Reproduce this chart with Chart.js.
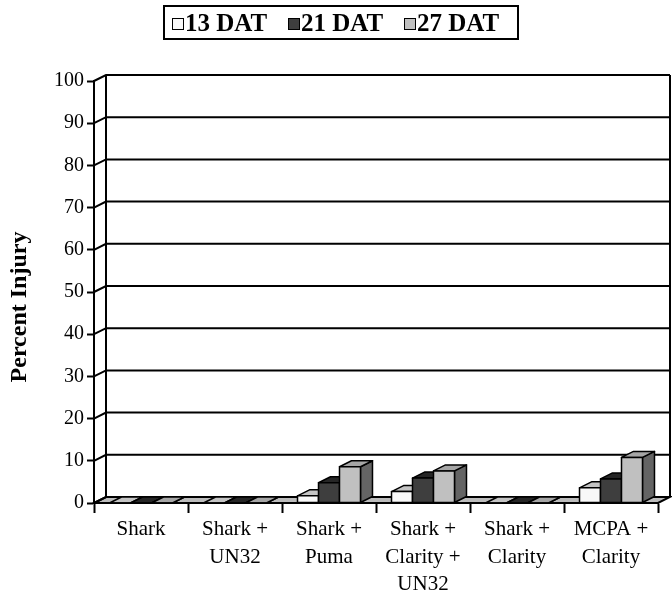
<!DOCTYPE html>
<html lang="en">
<head>
  <meta charset="UTF-8" />
  <title>Percent Injury</title>
  <script src="https://cdn.jsdelivr.net/npm/chart.js"></script>
  <style>
    html, body {
      margin: 0;
      padding: 0;
      background: #ffffff;
    }
    .wrap {
      position: relative;
      width: 672px;
      height: 599px;
    }
    .legend {
      position: absolute;
      left: 163px;
      top: 5px;
      width: 352px;
      height: 31px;
      border: 2px solid #000;
      font-family: 'Liberation Serif', 'Times New Roman', serif;
      font-weight: bold;
      font-size: 25px;
      color: #000;
    }
    .legend .item {
      position: absolute;
      top: 0;
      height: 31px;
      line-height: 31px;
      white-space: nowrap;
    }
    .legend .box {
      display: inline-block;
      width: 10px;
      height: 10px;
      border: 1.5px solid #000;
      margin-right: 1px;
      vertical-align: 1px;
    }
  </style>
</head>
<body>
  <div class="wrap">
    <canvas id="injuryChart" width="672" height="599"></canvas>
    <div class="legend" id="legend"></div>
  </div>

  <script>
    // data
    const categories = [
      ["Shark"],
      ["Shark +", "UN32"],
      ["Shark +", "Puma"],
      ["Shark +", "Clarity +", "UN32"],
      ["Shark +", "Clarity"],
      ["MCPA +", "Clarity"]
    ];
    const seriesNames = ["13 DAT", "21 DAT", "27 DAT"];
    const dat13 = [0, 0, 1.7, 2.7, 0, 3.6];
    const dat21 = [0, 0, 4.8, 5.9, 0, 5.7];
    const dat27 = [0, 0, 8.6, 7.6, 0, 10.8];
    const yTicks = [0, 10, 20, 30, 40, 50, 60, 70, 80, 90, 100];

    // front / top / side shades per series
    const faces = [
      { front: "#f8f8f8", top: "#c4c4c4", side: "#7a7a7a" },
      { front: "#3e3e3e", top: "#262626", side: "#1c1c1c" },
      { front: "#c0c0c0", top: "#a6a6a6", side: "#646464" }
    ];
    const DX = 12, DY = -6;
    const serif = "'Liberation Serif', 'Times New Roman', serif";

    // legend in html
    const legendPos = [7, 123, 239];
    const legend = document.getElementById("legend");
    seriesNames.forEach((name, i) => {
      const item = document.createElement("div");
      item.className = "item";
      item.style.left = legendPos[i] + "px";
      const box = document.createElement("span");
      box.className = "box";
      box.style.background = faces[i].front;
      item.appendChild(box);
      item.appendChild(document.createTextNode(name));
      legend.appendChild(item);
    });

    // walls, floor and 3d faces of the bars
    const box3d = {
      id: "box3d",
      beforeDatasetsDraw(chart) {
        const { ctx, chartArea: a } = chart;
        const y = chart.scales.y;
        ctx.save();
        ctx.strokeStyle = "#000";
        ctx.lineWidth = 2;
        // floor
        ctx.beginPath();
        ctx.moveTo(a.left, a.bottom);
        ctx.lineTo(a.right, a.bottom);
        ctx.lineTo(a.right + DX, a.bottom + DY);
        ctx.lineTo(a.left + DX, a.bottom + DY);
        ctx.closePath();
        ctx.fillStyle = "#bcbcbc";
        ctx.fill();
        ctx.stroke();
        // back wall grid lines
        y.ticks.forEach(t => {
          const py = y.getPixelForValue(t.value);
          ctx.beginPath();
          ctx.moveTo(a.left, py);
          ctx.lineTo(a.left + DX, py + DY);
          ctx.lineTo(a.right + DX, py + DY);
          ctx.stroke();
        });
        const top = y.getPixelForValue(100);
        const bot = y.getPixelForValue(0);
        ctx.beginPath();
        ctx.moveTo(a.left + DX, top + DY);
        ctx.lineTo(a.left + DX, bot + DY);
        ctx.moveTo(a.right + DX, top + DY);
        ctx.lineTo(a.right + DX, bot + DY);
        ctx.stroke();
        ctx.restore();
      },
      afterDatasetsDraw(chart) {
        const ctx = chart.ctx;
        ctx.save();
        ctx.strokeStyle = "#000";
        ctx.lineWidth = 1.5;
        ctx.lineJoin = "round";
        const n = chart.data.labels.length;
        for (let i = 0; i < n; i++) {
          chart.data.datasets.forEach((ds, d) => {
            const el = chart.getDatasetMeta(d).data[i];
            const p = el.getProps(["x", "y", "base", "width"], true);
            const x0 = p.x - p.width / 2, x1 = p.x + p.width / 2;
            const tp = Math.min(p.y, p.base), bs = Math.max(p.y, p.base);
            const f = faces[d];
            // side
            ctx.beginPath();
            ctx.moveTo(x1, tp);
            ctx.lineTo(x1 + DX, tp + DY);
            ctx.lineTo(x1 + DX, bs + DY);
            ctx.lineTo(x1, bs);
            ctx.closePath();
            ctx.fillStyle = f.side;
            ctx.fill();
            ctx.stroke();
            // top
            ctx.beginPath();
            ctx.moveTo(x0, tp);
            ctx.lineTo(x1, tp);
            ctx.lineTo(x1 + DX, tp + DY);
            ctx.lineTo(x0 + DX, tp + DY);
            ctx.closePath();
            ctx.fillStyle = f.top;
            ctx.fill();
            ctx.stroke();
            // front
            ctx.fillStyle = f.front;
            ctx.fillRect(x0, tp, p.width, bs - tp);
            ctx.strokeRect(x0, tp, p.width, bs - tp);
          });
        }
        ctx.restore();
      }
    };

    const ctx = document.getElementById("injuryChart").getContext("2d");
    new Chart(ctx, {
      type: "bar",
      data: {
        labels: categories,
        datasets: [dat13, dat21, dat27].map((vals, i) => ({
          label: seriesNames[i],
          data: vals,
          backgroundColor: faces[i].front,
          borderWidth: 0,
          categoryPercentage: 0.67,
          barPercentage: 1
        }))
      },
      options: {
        responsive: false,
        animation: false,
        layout: { padding: { top: 81, right: 14, left: 0, bottom: 0 } },
        plugins: {
          legend: { display: false },
          tooltip: { enabled: false }
        },
        scales: {
          x: {
            afterFit: s => { s.height = 96; },
            grid: {
              offset: true,
              drawOnChartArea: false,
              drawTicks: true,
              tickLength: 10,
              tickWidth: 2,
              tickColor: "#000"
            },
            border: { display: true, color: "#000", width: 2 },
            ticks: {
              color: "#000",
              padding: 3,
              maxRotation: 0,
              autoSkip: false,
              font: { family: serif, size: 21, lineHeight: 1.31 }
            }
          },
          y: {
            min: 0,
            max: 100,
            afterFit: s => { s.width = 94; },
            afterBuildTicks: s => { s.ticks = yTicks.map(v => ({ value: v })); },
            grid: {
              drawOnChartArea: false,
              drawTicks: true,
              tickLength: 7,
              tickWidth: 2,
              tickColor: "#000"
            },
            border: { display: true, color: "#000", width: 2 },
            ticks: {
              color: "#000",
              padding: 3,
              font: { family: serif, size: 20 }
            },
            title: {
              display: true,
              // trailing spaces nudge the rotated title down a little
              text: "Percent Injury     ",
              color: "#000",
              padding: { top: 5, bottom: 0 },
              font: { family: serif, size: 24, weight: "bold" }
            }
          }
        }
      },
      plugins: [box3d]
    });
  </script>
</body>
</html>
